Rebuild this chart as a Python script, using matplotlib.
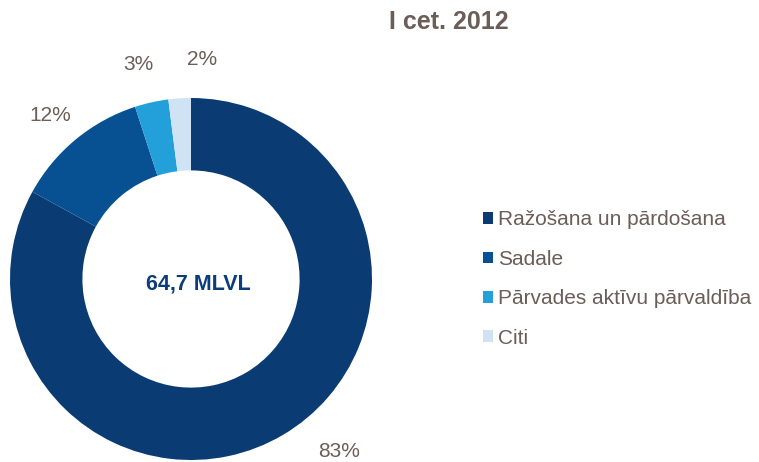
import matplotlib.pyplot as plt

plt.rcParams['font.family'] = ['Liberation Sans', 'DejaVu Sans']

# dati
title = "I cet. 2012"
total_label = "64,7 MLVL"
categories = ["Ražošana un pārdošana", "Sadale", "Pārvades aktīvu pārvaldība", "Citi"]
shares = [83, 12, 3, 2]
colors = ["#0a3b73", "#075192", "#239fd9", "#cfe3f4"]

text_color = "#6b5d57"
# etiķešu novietojums (datu koordinātēs, rādiuss = 1)
label_pos = [(0.82, -0.955), (-0.78, 0.905), (-0.29, 1.185), (0.06, 1.215)]

fig = plt.figure(figsize=(7.59, 4.62), dpi=100)
cx, cy, r = 191, 462 - 279, 181
ax = fig.add_axes([(cx - r) / 759, (cy - r) / 462, 2 * r / 759, 2 * r / 462])

wedges, _ = ax.pie(shares, colors=colors, startangle=90, counterclock=False,
                   radius=1, wedgeprops=dict(width=0.4, edgecolor='none'))
ax.set_xlim(-1, 1)
ax.set_ylim(-1, 1)
ax.set_aspect('equal')
ax.axis('off')

for val, (x, y) in zip(shares, label_pos):
    ax.text(x, y, f"{val}%", ha='center', va='center', fontsize=15, color=text_color)

ax.text(0.04, -0.03, total_label, ha='center', va='center', fontsize=15.5,
        fontweight='bold', color="#0b3d7a")

fig.text(449 / 759, 1 - 22 / 462, title, ha='center', va='center', fontsize=18,
         fontweight='bold', color=text_color)

leg = fig.legend(wedges, categories, loc='center left',
                 bbox_to_anchor=(483 / 759, 183 / 462), frameon=False,
                 fontsize=15, handlelength=0.48, handleheight=0.48,
                 handletextpad=0.25, labelspacing=0.98, borderpad=0, borderaxespad=0)
for t in leg.get_texts():
    t.set_color(text_color)

fig.savefig("out.png", dpi=100)
